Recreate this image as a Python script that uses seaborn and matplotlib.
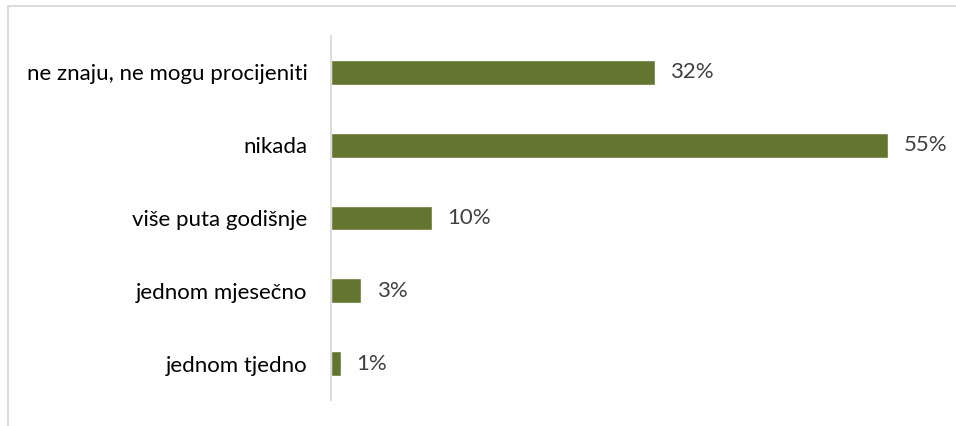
import pandas as pd
import matplotlib.pyplot as plt
import matplotlib.patches as mpatches
import seaborn as sns

categories = ['ne znaju, ne mogu procijeniti', 'nikada', 'više puta godišnje',
              'jednom mjesečno', 'jednom tjedno']
values = [32, 55, 10, 3, 1]

df = pd.DataFrame({'kategorija': categories, 'postotak': values})

sns.set_style('white')
plt.rcParams['font.family'] = ['Lato', 'DejaVu Sans']

fig = plt.figure(figsize=(9.56, 4.26), dpi=100)
ax = fig.add_axes([331 / 956, 26 / 426, 608 / 956, 364 / 426])

sns.barplot(data=df, x='postotak', y='kategorija', order=categories,
            color='#63752F', saturation=1, width=0.34, ax=ax)

ax.set_xlim(0, 60)
ax.set_ylim(4.5, -0.5)
ax.set_xlabel('')
ax.set_ylabel('')
ax.set_xticks([])
ax.tick_params(axis='y', length=0, pad=17, labelsize=16, labelcolor='black')

for s in ['top', 'right', 'bottom']:
    ax.spines[s].set_visible(False)
ax.spines['left'].set_color('#d9d9d9')
ax.spines['left'].set_linewidth(1.3)

for i, v in enumerate(values):
    ax.text(v + 1.5, i, f'{v}%', va='center', ha='left', fontsize=16, color='#404040')

# light chart border, cropped at right/bottom edges
fig.patches.append(mpatches.Rectangle((8 / 956, -0.1), 1.2, 1 - 6 / 426 + 0.1,
                                      transform=fig.transFigure, fill=False,
                                      edgecolor='#d9d9d9', linewidth=1.3))

fig.savefig('out.png', dpi=100)
